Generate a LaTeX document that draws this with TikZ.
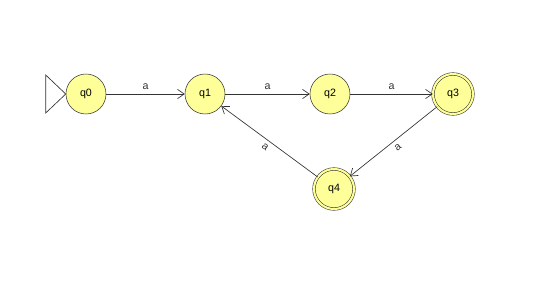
\documentclass[tikz,border=0pt]{standalone}
\usepackage{fontspec}
\setmainfont{Liberation Sans}
\usepackage{tikz}
\usetikzlibrary{positioning,arrows.meta}
\definecolor{stateyellow}{RGB}{255,255,153}

\begin{document}
\begin{tikzpicture}[x=0.75pt, y=-0.75pt,
  state/.style={circle, draw=black!80, fill=stateyellow, minimum size=30pt, inner sep=0pt, font=\fontsize{8}{9}\selectfont},
  accept/.style={state, double=stateyellow, double distance=1.6pt},
  arr/.style={-{Straight Barb[length=5pt, width=7pt]}, black!80, line width=0.5pt},
  lbl/.style={font=\fontsize{8}{9}\selectfont, inner sep=3pt}]
\useasboundingbox (0,0) rectangle (557,300);
\node[state] (q0) at (86,94) {q0};
\node[state] (q1) at (205,94) {q1};
\node[state] (q2) at (330,94) {q2};
\node[accept] (q3) at (453,94) {q3};
\node[accept] (q4) at (334,189) {q4};
% start marker
\draw[black!80, line width=0.5pt] (q0.west) -- ++(-20,-19) -- ++(0,38) -- cycle;
\draw[arr] (q0) -- node[lbl, above] {a} (q1);
\draw[arr] (q1) -- node[lbl, above] {a} (q2);
\draw[arr] (q2) -- node[lbl, above] {a} (q3);
\draw[arr] (q3) -- node[lbl, below, sloped] {a} (q4);
\draw[arr] (q4) -- node[lbl, below, sloped] {a} (q1);
\end{tikzpicture}
\end{document}
